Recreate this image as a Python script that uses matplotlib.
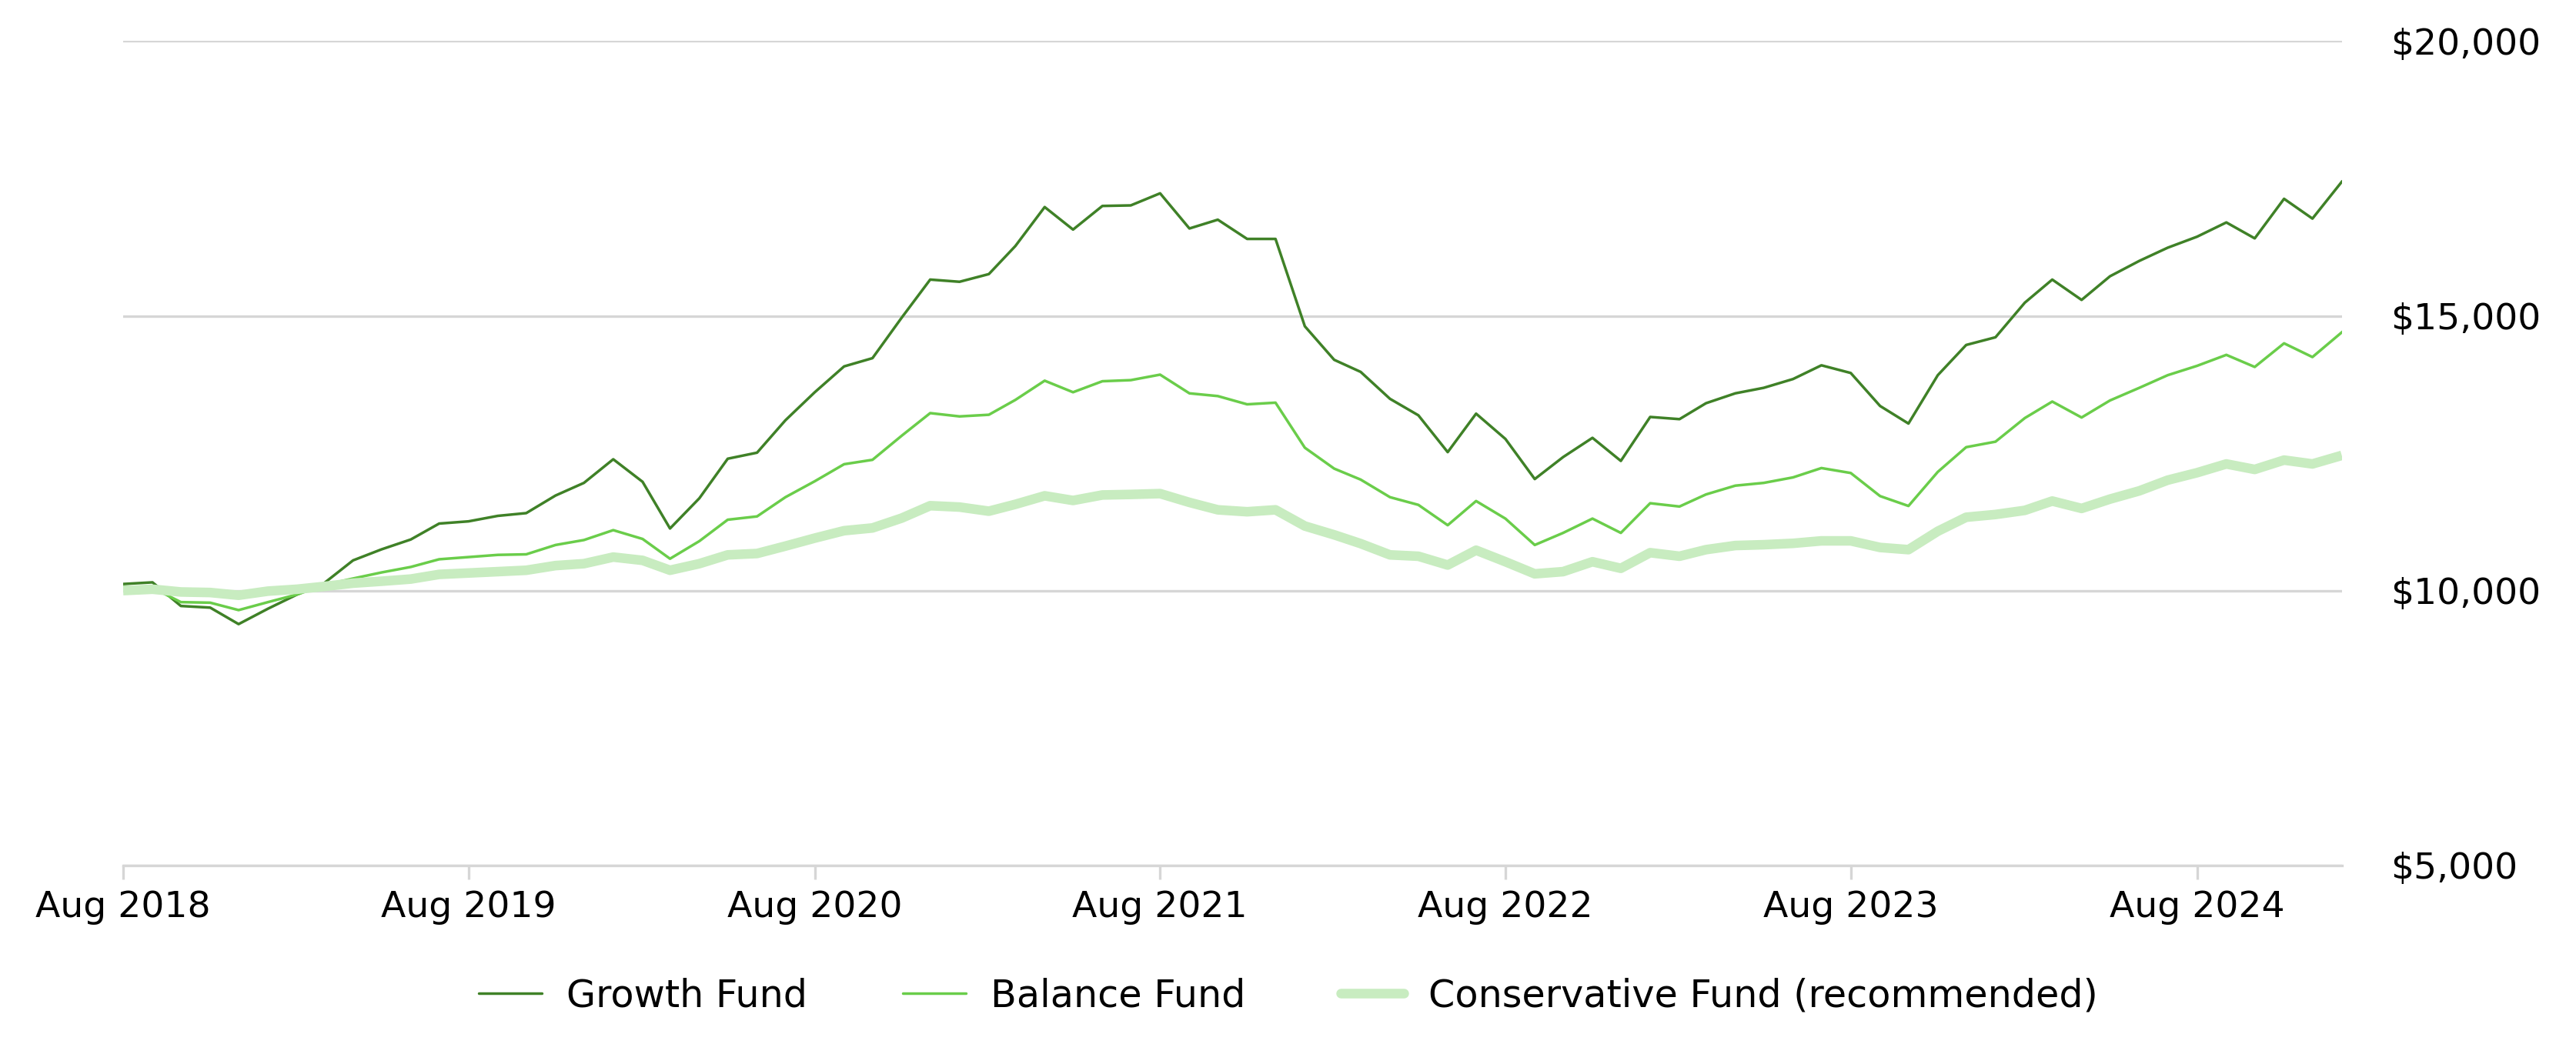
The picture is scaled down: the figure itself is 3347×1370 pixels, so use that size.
import pandas as pd
import matplotlib.pyplot as plt
import matplotlib.dates as mdates
from matplotlib.ticker import FuncFormatter

# monthly values, Aug 2018 .. Jan 2025
months = pd.date_range("2018-08-01", "2025-01-01", freq="MS")

growth = [10120, 10150, 9720, 9690, 9390,
          9670, 9930, 10130, 10550, 10750, 10930, 11220, 11260, 11360, 11410, 11730, 11960,
          12390, 11980, 11130, 11680, 12400, 12510, 13100, 13610, 14080, 14230, 14970, 15660,
          15620, 15760, 16270, 16980, 16570, 17000, 17010, 17230, 16590, 16750, 16400, 16400,
          14810, 14200, 13980, 13490, 13190, 12520, 13220, 12760, 12030, 12430, 12780, 12360,
          13160, 13120, 13410, 13590, 13690, 13850, 14100, 13960, 13360, 13040, 13920, 14470,
          14610, 15240, 15660, 15290, 15720, 16000, 16240, 16440, 16700, 16410, 17130, 16770,
          17440]

balance = [10070, 10050, 9790, 9780, 9645,
           9790, 9930, 10100, 10220, 10330, 10430, 10570, 10610, 10650, 10660, 10830, 10920,
           11100, 10940, 10580, 10900, 11290, 11350, 11700, 11990, 12300, 12380, 12820, 13230,
           13170, 13200, 13470, 13820, 13610, 13810, 13830, 13930, 13590, 13540, 13390, 13420,
           12600, 12220, 12020, 11700, 11560, 11190, 11630, 11310, 10830, 11050, 11310, 11050,
           11590, 11530, 11750, 11910, 11960, 12060, 12230, 12140, 11720, 11540, 12160, 12610,
           12710, 13140, 13440, 13150, 13460, 13690, 13920, 14090, 14290, 14070, 14500, 14250,
           14700]

conservative = [10000, 10025, 9975, 9965, 9915,
                9990, 10025, 10075, 10135, 10170, 10210, 10295, 10320, 10345, 10370, 10455, 10490,
                10610, 10550, 10370, 10490, 10650, 10675, 10810, 10955, 11090, 11140, 11320, 11545,
                11520, 11445, 11570, 11725, 11640, 11740, 11750, 11765, 11605, 11470, 11435, 11470,
                11175, 11015, 10855, 10650, 10625, 10465, 10735, 10525, 10305, 10345, 10525, 10405,
                10690, 10625, 10745, 10820, 10835, 10860, 10905, 10905, 10785, 10745, 11080, 11335,
                11385, 11460, 11630, 11495, 11665, 11815, 12010, 12145, 12305, 12205, 12375, 12305,
                12460]

y_ticks = [5000, 10000, 15000, 20000]

plt.rcParams['font.family'] = ['DejaVu Sans']
plt.rcParams['font.size'] = 34

fig = plt.figure(figsize=(33.48, 13.70), dpi=100)
ax = fig.add_axes([0.0478, 0.179, 0.861, 0.782])

grid_col = '#d6d6d6'

ax.plot(months, growth, color='#3f8127', lw=2.5, label='Growth Fund', zorder=3)
ax.plot(months, balance, color='#6acd4a', lw=2.5, label='Balance Fund', zorder=3)
ax.plot(months, conservative, color='#c8ecc0', lw=9, label='Conservative Fund (recommended)',
        solid_capstyle='butt', zorder=4)

ax.set_xlim(months[0], months[-1])
ax.set_ylim(5000, 20000)

# y axis on the right, dollar labels
ax.yaxis.tick_right()
ax.set_yticks(y_ticks)
ax.yaxis.set_major_formatter(FuncFormatter(lambda v, p: f"${v:,.0f}"))
ax.tick_params(axis='y', length=0, pad=46)
ax.grid(axis='y', color=grid_col, lw=2.4)

# yearly ticks at Aug
ax.xaxis.set_major_locator(mdates.MonthLocator(bymonth=8))
ax.xaxis.set_major_formatter(mdates.DateFormatter('%b %Y'))
ax.tick_params(axis='x', length=13, width=2.4, color=grid_col, pad=10)

for s in ['top', 'left', 'right']:
    ax.spines[s].set_visible(False)
ax.spines['bottom'].set_color(grid_col)
ax.spines['bottom'].set_linewidth(2.4)

leg = fig.legend(loc='center', bbox_to_anchor=(0.5, 0.055), ncol=3, frameon=False,
                 fontsize=35.5, handlelength=1.67, handletextpad=0.65, columnspacing=2.5)
for h in leg.get_lines():
    h.set_solid_capstyle('round')

fig.savefig('out.png', dpi=100)
